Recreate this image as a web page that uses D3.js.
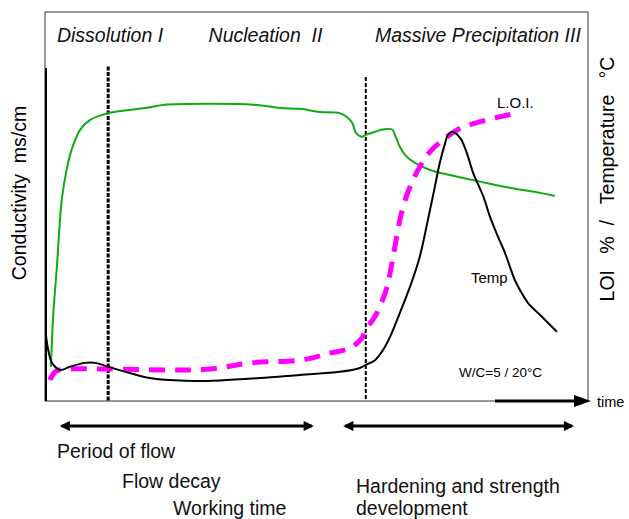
<!DOCTYPE html>
<html>
<head>
<meta charset="utf-8">
<script src="https://cdn.jsdelivr.net/npm/d3@7/dist/d3.min.js"></script>
<style>
  body { margin: 0; background: #fff; }
  text { font-family: "Liberation Sans", Arial, sans-serif; white-space: pre; }
</style>
</head>
<body>
<svg id="chart"></svg>
<script>
const conductivity = [
  [1.1, 8.8], [1.5, 21.7], [2.2, 34.5], [3.1, 51.7], [4.0, 59.4], [4.9, 64.5],
  [6.5, 69.7], [8.3, 72.2], [11.7, 74.0], [15.7, 74.8], [18.9, 75.4], [21.9, 76.1],
  [39.3, 76.1], [43.5, 75.3], [47.2, 75.1], [50.9, 74.3], [54.6, 74.0], [55.9, 73.0],
  [56.9, 71.5], [57.6, 68.9], [58.7, 67.9], [59.4, 68.4], [61.1, 69.2], [62.6, 69.8],
  [64.3, 69.8], [64.8, 68.4], [65.7, 65.4], [66.7, 63.2], [68.5, 61.2], [71.3, 59.4],
  [75.0, 58.1], [80.6, 56.4], [86.1, 54.8], [91.7, 53.5], [94.4, 52.7]
];

const temperature = [
  [0.2, 16.7], [0.6, 13.1], [1.3, 9.8], [2.8, 8.0], [4.6, 8.8], [7.4, 9.8],
  [9.3, 9.8], [11.7, 8.8], [15.7, 7.2], [19.4, 5.9], [25.9, 5.2], [32.4, 5.3],
  [39.8, 5.9], [47.2, 6.7], [54.6, 7.5], [58.3, 8.5], [59.4, 9.3], [61.1, 10.5],
  [62.4, 12.7], [63.9, 16.5], [65.7, 22.6], [67.6, 29.4], [69.4, 37.1], [70.9, 46.5],
  [72.2, 55.1], [73.1, 61.2], [74.1, 66.3], [74.6, 68.4], [75.4, 69.2], [76.9, 67.6],
  [78.1, 63.8], [79.3, 58.6], [81.2, 52.5], [82.4, 47.4], [83.9, 42.2], [85.2, 38.0],
  [86.1, 34.5], [87.0, 31.1], [88.3, 27.7], [89.5, 25.1], [91.7, 22.1], [94.8, 17.8]
];

const loi = [
  [0.9, 5.4], [1.9, 7.5], [3.1, 8.1], [12.0, 8.2], [23.1, 8.0], [30.6, 8.2],
  [38.0, 9.8], [47.2, 10.5], [52.8, 12.3], [56.5, 13.6], [58.7, 16.2], [59.4, 18.3],
  [61.1, 21.7], [63.0, 27.8], [63.9, 32.9], [64.8, 39.7], [65.7, 46.5], [66.7, 51.7],
  [67.6, 55.1], [69.4, 60.2], [71.3, 64.1], [74.1, 67.5], [76.9, 70.1], [80.6, 71.8],
  [84.3, 73.1], [87.6, 74.0]
];

// phase boundaries (time) and top of the dashed lines (value)
const phaseBoundaries = [11.7, 59.4];
const phaseTops = [86, 83.3];
const phaseNames = ["Dissolution I", "Nucleation  II", "Massive Precipitation III"];
const phaseNameX = [2.2, 30.3, 61.1];

// periods under the time axis: [start, end]
const periods = [[3.1, 49.4], [55.6, 97.6]];

const width = 629, height = 519;
const frame = { left: 45, top: 12, right: 588, bottom: 401 };

const svg = d3.select("#chart").attr("width", width).attr("height", height);

const x = d3.scaleLinear().domain([0, 100]).range([45, 585]);
const y = d3.scaleLinear().domain([0, 100]).range([frame.bottom, frame.top]);

// arrow heads
const defs = svg.append("defs");
defs.append("marker")
  .attr("id", "head")
  .attr("viewBox", "0 0 10 10")
  .attr("refX", 8).attr("refY", 5)
  .attr("markerWidth", 4).attr("markerHeight", 3.4)
  .attr("markerUnits", "strokeWidth")
  .attr("orient", "auto-start-reverse")
  .append("path").attr("d", "M0,0 L10,5 L0,10 Z").attr("fill", "#000");

// frame
svg.append("rect")
  .attr("x", frame.left).attr("y", frame.top)
  .attr("width", frame.right - frame.left).attr("height", frame.bottom - frame.top)
  .attr("fill", "none").attr("stroke", "#333").attr("stroke-width", 1);

// thick left axis
svg.append("line")
  .attr("x1", 46).attr("x2", 46)
  .attr("y1", y(85.6)).attr("y2", frame.bottom)
  .attr("stroke", "#000").attr("stroke-width", 2);

// time axis arrow
svg.append("line")
  .attr("x1", 495).attr("x2", 578)
  .attr("y1", frame.bottom).attr("y2", frame.bottom)
  .attr("stroke", "#000").attr("stroke-width", 3);
svg.append("path")
  .attr("d", `M574,${frame.bottom - 6} L591,${frame.bottom} L574,${frame.bottom + 6} Z`)
  .attr("fill", "#000");
svg.append("text")
  .attr("x", 597).attr("y", 407)
  .attr("font-size", 14.5).text("time");

// phase boundaries
svg.selectAll(".phase")
  .data(phaseBoundaries)
  .enter().append("line")
  .attr("class", "phase")
  .attr("x1", d => x(d)).attr("x2", d => x(d))
  .attr("y1", (d, i) => y(phaseTops[i])).attr("y2", frame.bottom)
  .attr("stroke", "#000")
  .attr("stroke-width", (d, i) => i === 0 ? 3 : 2)
  .attr("stroke-dasharray", (d, i) => i === 0 ? "4,1.5" : "4,2");

// phase names
svg.selectAll(".phaseName")
  .data(phaseNames)
  .enter().append("text")
  .attr("x", (d, i) => x(phaseNameX[i]))
  .attr("y", 42)
  .attr("font-size", 19.5)
  .attr("font-style", "italic")
  .attr("fill", "#111")
  .text(d => d);

const line = d3.line()
  .x(d => x(d[0]))
  .y(d => y(d[1]))
  .curve(d3.curveCatmullRom.alpha(0.5));

svg.append("path")
  .datum(conductivity)
  .attr("d", line)
  .attr("fill", "none").attr("stroke", "#11aa11").attr("stroke-width", 2);

svg.append("path")
  .datum(loi)
  .attr("d", line)
  .attr("fill", "none").attr("stroke", "#ff00ff").attr("stroke-width", 5)
  .attr("stroke-dasharray", "16,10");

svg.append("path")
  .datum(temperature)
  .attr("d", line)
  .attr("fill", "none").attr("stroke", "#000").attr("stroke-width", 2);

// curve labels
svg.append("text").attr("x", 497).attr("y", 108).attr("font-size", 15).text("L.O.I.");
svg.append("text").attr("x", 471).attr("y", 283).attr("font-size", 15).text("Temp");
svg.append("text").attr("x", 459).attr("y", 377).attr("font-size", 13.5).text("W/C=5 / 20°C");

// axis titles
svg.append("text")
  .attr("transform", "translate(26,193) rotate(-90)")
  .attr("text-anchor", "middle")
  .attr("font-size", 19.5)
  .text("Conductivity  ms/cm");

svg.append("text")
  .attr("transform", "translate(614,179) rotate(-90)")
  .attr("text-anchor", "middle")
  .attr("font-size", 19.5)
  .text("LOI   %  /   Temperature   °C");

// periods below the axis
svg.selectAll(".period")
  .data(periods)
  .enter().append("line")
  .attr("class", "period")
  .attr("x1", d => x(d[0])).attr("x2", d => x(d[1]))
  .attr("y1", 426).attr("y2", 426)
  .attr("stroke", "#000").attr("stroke-width", 3)
  .attr("marker-start", "url(#head)")
  .attr("marker-end", "url(#head)");

const notes = [
  { t: "Period of flow", x: 57, y: 458 },
  { t: "Flow decay", x: 122, y: 488 },
  { t: "Working time", x: 173, y: 515 },
  { t: "Hardening and strength", x: 356, y: 493 },
  { t: "development", x: 356, y: 515 }
];
svg.selectAll(".note")
  .data(notes)
  .enter().append("text")
  .attr("class", "note")
  .attr("x", d => d.x).attr("y", d => d.y)
  .attr("font-size", 19.5)
  .attr("fill", "#111")
  .text(d => d.t);
</script>
</body>
</html>
